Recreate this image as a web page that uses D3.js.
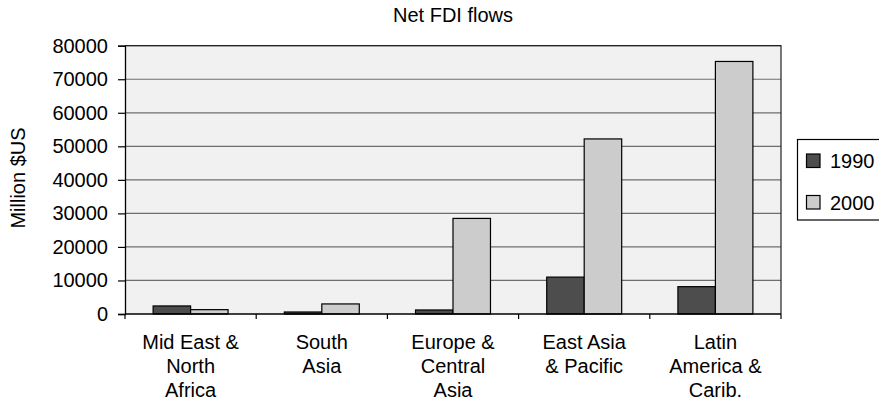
<!DOCTYPE html>
<html>
<head>
<meta charset="utf-8">
<script src="https://cdn.jsdelivr.net/npm/d3@7"></script>
<style>
  html, body { margin: 0; padding: 0; background: #fff; }
  svg { display: block; }
  text { font-family: "Liberation Sans", Arial, sans-serif; fill: #000; }
</style>
</head>
<body>
<svg id="chart" width="879" height="402"></svg>
<script>
// Regions (multi-line category labels)
const categories = [
  ["Mid East &", "North", "Africa"],
  ["South", "Asia"],
  ["Europe &", "Central", "Asia"],
  ["East Asia", "& Pacific"],
  ["Latin", "America &", "Carib."]
];
const seriesNames = ["1990", "2000"];
// Net FDI inflows, million $US
const values1990 = [2400, 600, 1200, 11000, 8150];
const values2000 = [1300, 3000, 28500, 52200, 75300];
const yTicks = [0, 10000, 20000, 30000, 40000, 50000, 60000, 70000, 80000];
const seriesColors = ["#4d4d4d", "#cccccc"];

const svg = d3.select("#chart");
const plotLeft = 125, plotRight = 781, plotTop = 45.7, plotBottom = 314;
const fontSize = 20;

const catKeys = categories.map((c, i) => i);
const x = d3.scaleBand().domain(catKeys).range([plotLeft, plotRight]).padding(0);
const xs = d3.scaleBand().domain(seriesNames).range([0, x.bandwidth()])
  .paddingInner(0).paddingOuter(0.75);
const y = d3.scaleLinear().domain([0, 80000]).range([plotBottom, plotTop]);

// plot background
svg.append("rect")
  .attr("x", plotLeft).attr("y", plotTop)
  .attr("width", plotRight - plotLeft).attr("height", plotBottom - plotTop)
  .attr("fill", "#f1f1f1");

// horizontal gridlines
svg.append("g").selectAll("line")
  .data(yTicks.filter(d => d > 0))
  .join("line")
  .attr("x1", plotLeft).attr("x2", plotRight)
  .attr("y1", d => y(d)).attr("y2", d => y(d))
  .attr("stroke", "#6e6e6e").attr("stroke-width", 1.2);

// plot frame (top and right)
svg.append("path")
  .attr("d", `M${plotLeft},${plotTop}H${plotRight}V${plotBottom}`)
  .attr("fill", "none").attr("stroke", "#222").attr("stroke-width", 1.2);

// bars
const seriesData = [values1990, values2000];
seriesNames.forEach((s, si) => {
  svg.append("g").selectAll("rect")
    .data(seriesData[si])
    .join("rect")
    .attr("x", (d, i) => x(i) + xs(s))
    .attr("y", d => y(d))
    .attr("width", xs.bandwidth())
    .attr("height", d => y(0) - y(d))
    .attr("fill", seriesColors[si])
    .attr("stroke", "#000").attr("stroke-width", 1.2);
});

// y axis
const yAxis = d3.axisLeft(y).tickValues(yTicks).tickSize(7).tickPadding(10)
  .tickFormat(d3.format("d"));
const gy = svg.append("g").attr("transform", `translate(${plotLeft},0)`).call(yAxis);
gy.select(".domain").attr("stroke", "#000").attr("stroke-width", 1.3);
gy.selectAll(".tick line").attr("stroke", "#000").attr("stroke-width", 1.2);
gy.selectAll(".tick text")
  .attr("font-size", fontSize)
  .attr("font-family", "Liberation Sans, Arial, sans-serif")
  .attr("fill", "#000");

// x axis line and tick marks at category boundaries
svg.append("line")
  .attr("x1", plotLeft).attr("x2", plotRight)
  .attr("y1", plotBottom).attr("y2", plotBottom)
  .attr("stroke", "#000").attr("stroke-width", 1.3);
const boundaries = catKeys.map(i => x(i)).concat([plotRight]);
svg.append("g").selectAll("line")
  .data(boundaries)
  .join("line")
  .attr("x1", d => d).attr("x2", d => d)
  .attr("y1", plotBottom).attr("y2", plotBottom + 5)
  .attr("stroke", "#000").attr("stroke-width", 1.2);

// category labels
const lineHeight = 24;
svg.append("g").selectAll("text")
  .data(categories)
  .join("text")
  .attr("text-anchor", "middle")
  .attr("font-size", fontSize)
  .each(function (lines, i) {
    d3.select(this).selectAll("tspan")
      .data(lines)
      .join("tspan")
      .attr("x", x(i) + x.bandwidth() / 2)
      .attr("y", (d, k) => 348.5 + k * lineHeight)
      .text(d => d);
  });

// title
svg.append("text")
  .attr("x", (plotLeft + plotRight) / 2).attr("y", 21.5)
  .attr("text-anchor", "middle")
  .attr("font-size", fontSize)
  .text("Net FDI flows");

// y axis title
svg.append("text")
  .attr("transform", `translate(24.5,${178}) rotate(-90)`)
  .attr("text-anchor", "middle")
  .attr("font-size", fontSize)
  .text("Million $US");

// legend
const legend = svg.append("g");
legend.append("rect")
  .attr("x", 797.5).attr("y", 139.5)
  .attr("width", 110).attr("height", 80.5)
  .attr("fill", "#fff").attr("stroke", "#000").attr("stroke-width", 1.2);
seriesNames.forEach((s, si) => {
  const yy = 154 + si * 41.5;
  legend.append("rect")
    .attr("x", 806.5).attr("y", yy)
    .attr("width", 13.5).attr("height", 13.5)
    .attr("fill", seriesColors[si])
    .attr("stroke", "#000").attr("stroke-width", 1.2);
  legend.append("text")
    .attr("x", 830).attr("y", yy + 14)
    .attr("font-size", fontSize)
    .text(s);
});
</script>
</body>
</html>
